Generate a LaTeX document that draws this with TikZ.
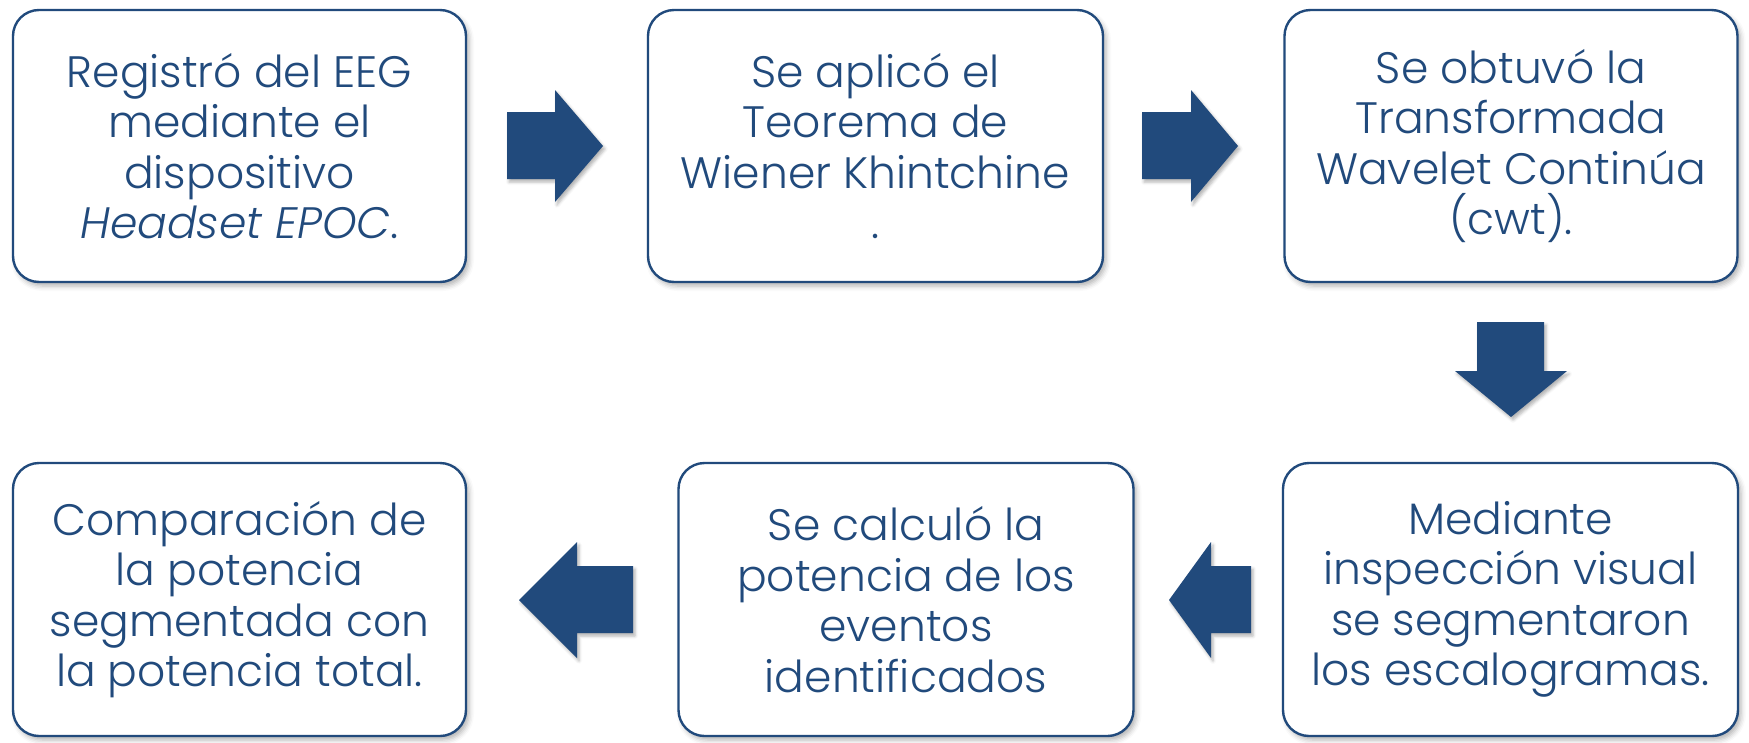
\documentclass[tikz,border=0pt]{standalone}
\usepackage{fontspec}
\setmainfont{Poppins}[UprightFont={* Light}, ItalicFont={* Light Italic}]
\usetikzlibrary{shadows.blur}
\definecolor{dblue}{RGB}{33,74,124}
\tikzset{
  stepbox/.style={draw=dblue, line width=2.4pt, fill=white, rounded corners=26pt,
    minimum width=453pt, minimum height=272pt, inner sep=0pt, align=center,
    text=dblue, font=\fontsize{44}{50.5}\selectfont,
    blur shadow={shadow xshift=3pt, shadow yshift=-4pt, shadow blur radius=5pt, shadow opacity=30}},
  blockarrow/.style={fill=dblue, draw=none,
    blur shadow={shadow xshift=2pt, shadow yshift=-3pt, shadow blur radius=3pt, shadow opacity=30}}
}
\begin{document}
\begin{tikzpicture}[x=1pt,y=-1pt]
\useasboundingbox (0,0) rectangle (1749,742);
\node[stepbox] (b1) at (239.5,146) {Registró del EEG\\mediante el\\dispositivo\\\textit{Headset EPOC}.};
\node[stepbox, minimum width=455pt] (b2) at (875.5,146) {Se aplicó el\\Teorema de\\Wiener Khintchine\\.};
\node[stepbox] (b3) at (1511,146) {Se obtuvó la\\Transformada\\Wavelet Continúa\\(cwt).};
\node[stepbox, minimum width=455pt, minimum height=273pt] (b4) at (1510.5,599.5) {Mediante\\inspección visual\\se segmentaron\\los escalogramas.};
\node[stepbox, minimum width=455pt, minimum height=273pt] (b5) at (906,599.5) {Se calculó la\\potencia de los\\eventos\\identificados};
\node[stepbox, minimum height=273pt] (b6) at (239.5,599.5) {Comparación de\\la potencia\\segmentada con\\la potencia total.};
% block arrows
\fill[blockarrow] (507,112) -- (555,112) -- (555,90) -- (603,146) -- (555,202) -- (555,179) -- (507,179) -- cycle;
\fill[blockarrow] (1142,112) -- (1191,112) -- (1191,90) -- (1238,146) -- (1191,202) -- (1191,179) -- (1142,179) -- cycle;
\fill[blockarrow] (1477,322) -- (1544,322) -- (1544,371) -- (1567,371) -- (1511,417) -- (1455,371) -- (1477,371) -- cycle;
\fill[blockarrow] (1251,566) -- (1211,566) -- (1211,542) -- (1169,600) -- (1211,658) -- (1211,633) -- (1251,633) -- cycle;
\fill[blockarrow] (633,566) -- (577,566) -- (577,542) -- (519,600) -- (577,658) -- (577,633) -- (633,633) -- cycle;
\end{tikzpicture}
\end{document}
